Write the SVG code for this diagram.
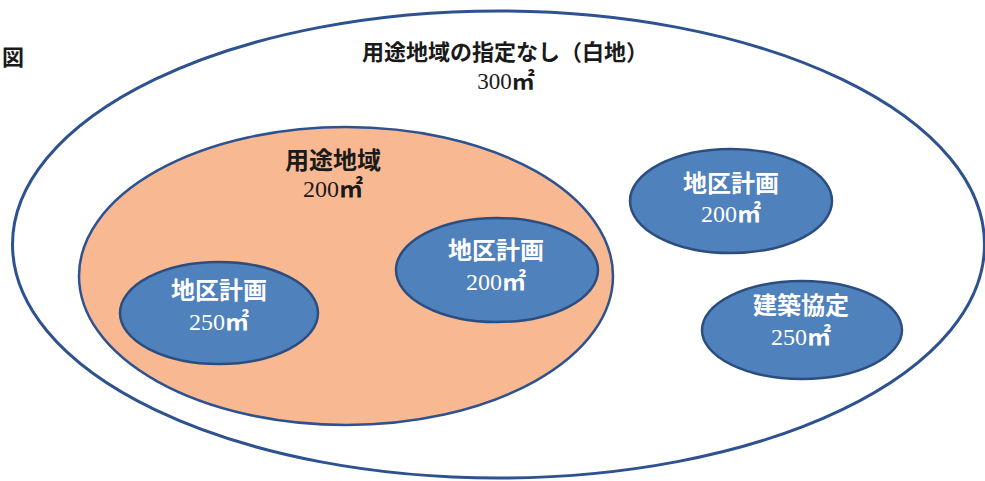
<svg xmlns="http://www.w3.org/2000/svg" width="985" height="481" viewBox="0 0 985 481">
<style>
.lbl{font-family:"Noto Sans CJK JP","Noto Sans CJK SC",sans-serif;font-weight:bold;font-size:24px;text-anchor:middle}
.num{font-family:"Liberation Serif",serif;font-size:24px;text-anchor:middle}
.m2{font-family:"Noto Sans CJK JP",sans-serif;font-weight:bold}
.dark{fill:#1a1a1a}
.white{fill:#ffffff}
.blue{fill:#4F81BD;stroke:#2C4D7F;stroke-width:2.5}
</style>
<rect width="985" height="481" fill="#ffffff"/>
<text x="2" y="65" class="lbl dark" style="text-anchor:start;font-size:22px">図</text>
<g id="outer">
<ellipse cx="498.5" cy="244.5" rx="486" ry="233.5" fill="none" stroke="#2E5290" stroke-width="3"/>
<text x="505" y="60" class="lbl dark" style="font-size:22px">用途地域の指定なし（白地）</text>
<text x="506" y="89" class="num dark" style="font-size:23px">300<tspan class="m2">㎡</tspan></text>
</g>
<g id="youto">
<ellipse cx="346" cy="276" rx="267" ry="149" fill="#F8B992" stroke="#2E5290" stroke-width="2.5"/>
<text x="333" y="169" class="lbl dark">用途地域</text>
<text x="333" y="197" class="num dark">200<tspan class="m2">㎡</tspan></text>
</g>
<g id="chiku1">
<ellipse cx="219" cy="313" rx="99" ry="51" class="blue"/>
<text x="219" y="299" class="lbl white">地区計画</text>
<text x="219" y="330" class="num white">250<tspan class="m2">㎡</tspan></text>
</g>
<g id="chiku2">
<ellipse cx="497" cy="270" rx="101" ry="52" class="blue"/>
<text x="496" y="259" class="lbl white">地区計画</text>
<text x="496" y="290" class="num white">200<tspan class="m2">㎡</tspan></text>
</g>
<g id="chiku3">
<ellipse cx="731" cy="201" rx="101" ry="52" class="blue"/>
<text x="731" y="192" class="lbl white">地区計画</text>
<text x="731" y="222" class="num white">200<tspan class="m2">㎡</tspan></text>
</g>
<g id="kenchiku">
<ellipse cx="802" cy="330" rx="100" ry="49" class="blue"/>
<text x="801" y="314" class="lbl white">建築協定</text>
<text x="801" y="345" class="num white">250<tspan class="m2">㎡</tspan></text>
</g>
<g id="connectors"></g>
</svg>
